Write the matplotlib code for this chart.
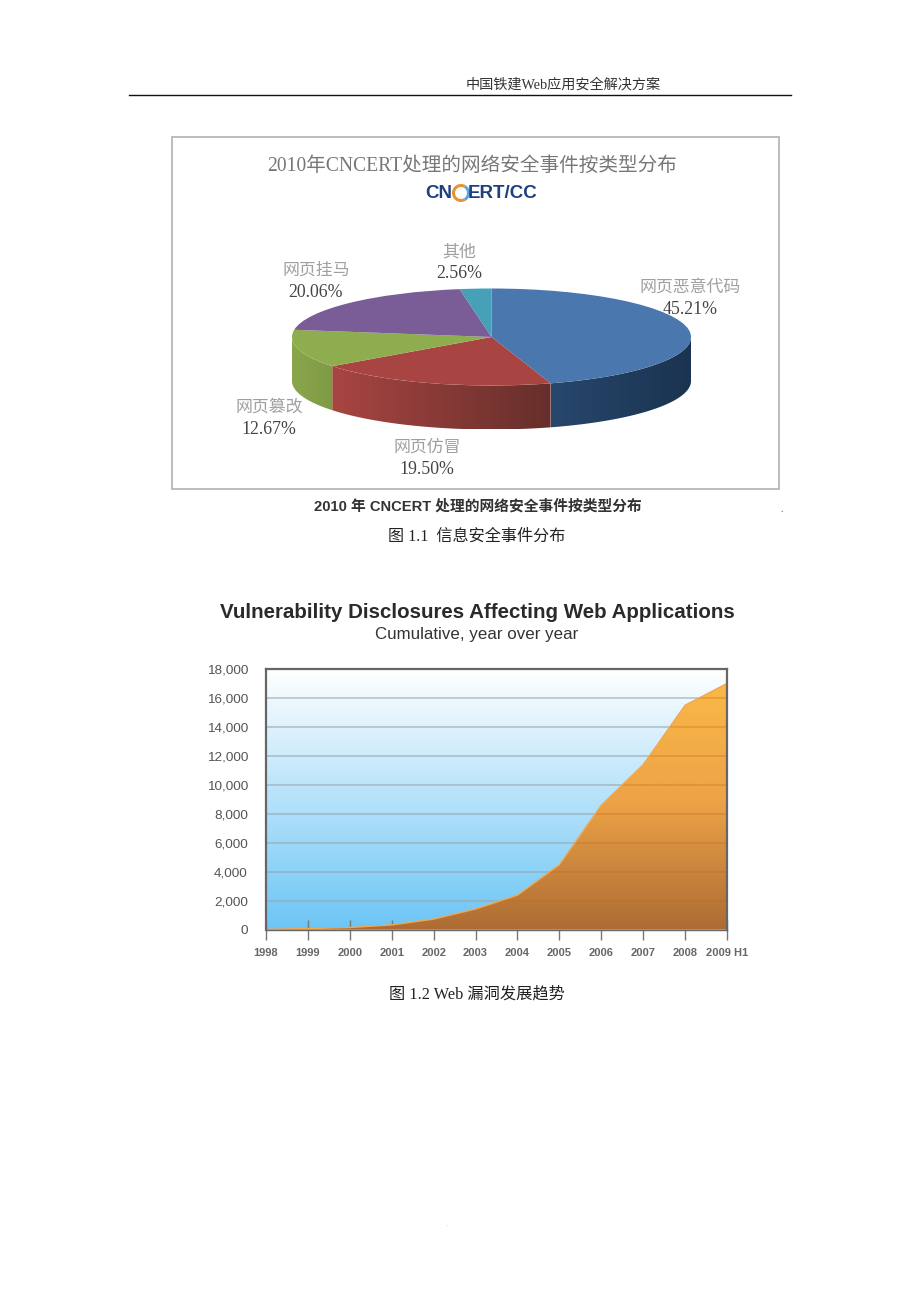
import numpy as np
import matplotlib
matplotlib.use('Agg')
import matplotlib.pyplot as plt
from matplotlib.colors import LinearSegmentedColormap
from matplotlib.patches import Polygon, Rectangle, Wedge

W, H = 920, 1302

# pie data
pie_labels = ['网页恶意代码', '网页仿冒', '网页篡改', '网页挂马', '其他']
pie_values = [45.21, 19.50, 12.67, 20.06, 2.56]
pie_colors = ['#4a77ae', '#a84542', '#8ead4f', '#7a5c96', '#45a0b8']
side_left = ['#27476c', '#a84542', '#8aa64c', '#7a5c96', '#45a0b8']
side_right = ['#1a3350', '#662f2b', '#7f9a45', '#7a5c96', '#45a0b8']

# area data
years = ['1998', '1999', '2000', '2001', '2002', '2003', '2004', '2005',
         '2006', '2007', '2008', '2009 H1']
disclosures = [50, 100, 170, 350, 750, 1450, 2400, 4500, 8600, 11400, 15500, 17000]
y_ticks = [0, 2000, 4000, 6000, 8000, 10000, 12000, 14000, 16000, 18000]

SERIF = ['Liberation Serif', 'Noto Sans CJK SC']
SANS = ['Liberation Sans', 'Noto Sans CJK SC']


def px_axes(fig, left, top, right, bottom):
    return fig.add_axes([left / W, 1 - bottom / H, (right - left) / W, (bottom - top) / H])


def gradient(ax, colors, extent, vertical=False, clip=None, zorder=1):
    cmap = LinearSegmentedColormap.from_list('g', colors)
    grad = np.linspace(0, 1, 256)
    grad = grad.reshape(-1, 1) if vertical else grad.reshape(1, -1)
    im = ax.imshow(grad, cmap=cmap, extent=extent, aspect='auto', origin='lower', zorder=zorder)
    if clip is not None:
        im.set_clip_path(clip)
    return im


fig = plt.figure(figsize=(W / 100, H / 100), dpi=100, facecolor='white')

# page layer: header, frame of the first picture, captions
page = fig.add_axes([0, 0, 1, 1], zorder=0)
page.set_xlim(0, W)
page.set_ylim(H, 0)
page.axis('off')
page.plot([129, 791], [95, 95], color='#111111', lw=1)
page.text(563, 84.5, '中国铁建Web应用安全解决方案', family=SERIF, fontsize=10.2, color='#333333',
          ha='center', va='center')
page.add_patch(Rectangle((172.5, 137), 607, 352, fc='white', ec='#b0b0b0', lw=1.2))
page.text(472, 166, '2010年CNCERT处理的网络安全事件按类型分布', family=SERIF, fontsize=14.1,
          color='#777777', ha='center', va='center')
page.text(439, 193, 'CN', family=SANS, fontsize=13.5, weight='bold', color='#1f3f7f',
          ha='center', va='center')
page.text(503, 193, 'ERT/CC', family=SANS, fontsize=13.5, weight='bold', color='#1f3f7f',
          ha='center', va='center')
page.add_patch(Wedge((461, 193), 9, 60, 300, width=3, fc='#e8912d', ec='none'))
page.add_patch(Wedge((461, 193), 9, -60, 60, width=3, fc='#5aa6dc', ec='none'))

label_pos = [(690, 288), (427, 448), (269, 408), (316, 271), (459, 252)]
for name, val, (lx, ly) in zip(pie_labels, pie_values, label_pos):
    page.text(lx, ly, name, family=SERIF, fontsize=12.2, color='#a0a0a0', ha='center', va='center')
    page.text(lx, ly + 21.5, f'{val:.2f}%', family=SERIF, fontsize=12.8, color='#444444',
              ha='center', va='center')

page.text(478, 506, '2010 年 CNCERT 处理的网络安全事件按类型分布', family=SANS, fontsize=10.6,
          weight='bold', color='#333333', ha='center', va='center')
page.text(476.5, 537, '图 1.1  信息安全事件分布', family=SERIF, fontsize=11.6, color='#222222',
          ha='center', va='center')
page.text(477, 612.5, 'Vulnerability Disclosures Affecting Web Applications', family=SANS,
          fontsize=14.8, weight='bold', color='#2a2a2a', ha='center', va='center')
page.text(477, 634.5, 'Cumulative, year over year', family=SANS, fontsize=12.2, color='#333333',
          ha='center', va='center')
page.text(476.5, 994, '图 1.2 Web 漏洞发展趋势', family=SERIF, fontsize=11.7, color='#222222',
          ha='center', va='center')
page.text(782, 510, '.', family=SERIF, fontsize=7, color='#555555', ha='center', va='center')
page.text(447, 1224, '.', family=SERIF, fontsize=6, color='#cccccc', ha='center', va='center')

# pie, squashed by giving it a wide flat axes; the extra height below holds the side wall
depth = 44 / 48.5
pie_ax = px_axes(fig, 292, 288.5, 691, 429.5)
pie_ax.set_zorder(1)
pie_ax.patch.set_alpha(0)
wedges, _ = pie_ax.pie(pie_values, colors=pie_colors, startangle=90, counterclock=False, radius=1)
pie_ax.set_aspect('auto')
pie_ax.axis('off')

for w, c0, c1 in zip(wedges, side_left, side_right):
    t1 = w.theta1 % 360
    t2 = t1 + (w.theta2 - w.theta1)
    a, b = max(t1, 180), min(t2, 360)
    if a >= b:
        continue
    t = np.radians(np.linspace(a, b, 80))
    x, y = np.cos(t), np.sin(t)
    verts = np.column_stack([np.r_[x, x[::-1]], np.r_[y, y[::-1] - depth]])
    wall = Polygon(verts, closed=True, fc='none', ec='none', transform=pie_ax.transData)
    pie_ax.add_patch(wall)
    gradient(pie_ax, [c0, c1], (x.min(), x.max(), -1.02 - depth, 1), clip=wall, zorder=0.5)
pie_ax.set_xlim(-1, 1)
pie_ax.set_ylim(-1 - depth, 1)

# area chart
xs = np.arange(len(years))
ax = px_axes(fig, 266, 669, 727, 930)
ax.set_zorder(1)
gradient(ax, ['#6cc5f5', '#ffffff'], (xs[0], xs[-1], 0, 18000), vertical=True, zorder=0)
for v in y_ticks[1:-1]:
    ax.axhline(v, color='#98a4ad', lw=1.4, alpha=0.55, zorder=1)
clip = Polygon(np.column_stack([np.r_[xs, xs[-1], xs[0]], np.r_[disclosures, 0, 0]]), closed=True,
               fc='none', ec='none', transform=ax.transData)
ax.add_patch(clip)
gradient(ax, ['#ad6c34', '#eda347', '#fbbb47'], (xs[0], xs[-1], 0, 18000), vertical=True,
         clip=clip, zorder=2)
for v in y_ticks[1:-1]:
    ax.axhline(v, color='#c8641e', lw=1.2, alpha=0.35, zorder=2.5).set_clip_path(clip)
ax.plot(xs, disclosures, color='#f0a850', lw=1, zorder=3)
ax.plot(xs, np.zeros(len(xs)), color='#e0a050', lw=2, zorder=3)
ax.set_xlim(xs[0], xs[-1])
ax.set_ylim(0, 18000)
ax.set_xticks(xs)
ax.set_xticklabels(years, family=SANS, fontsize=8, weight='bold', color='#666666')
ax.set_yticks(y_ticks)
ax.set_yticklabels([f'{v:,}' for v in y_ticks], family=SANS, fontsize=9.7, color='#555555')
ax.tick_params(axis='x', direction='inout', length=14, width=1, color='#777777', pad=6)
ax.tick_params(axis='y', length=0, pad=13)
for s in ax.spines.values():
    s.set_color('#666666')
    s.set_linewidth(1.6)
    s.set_zorder(4)
ax.spines['bottom'].set_linewidth(1)

fig.savefig('out.png', dpi=100, facecolor='white')
